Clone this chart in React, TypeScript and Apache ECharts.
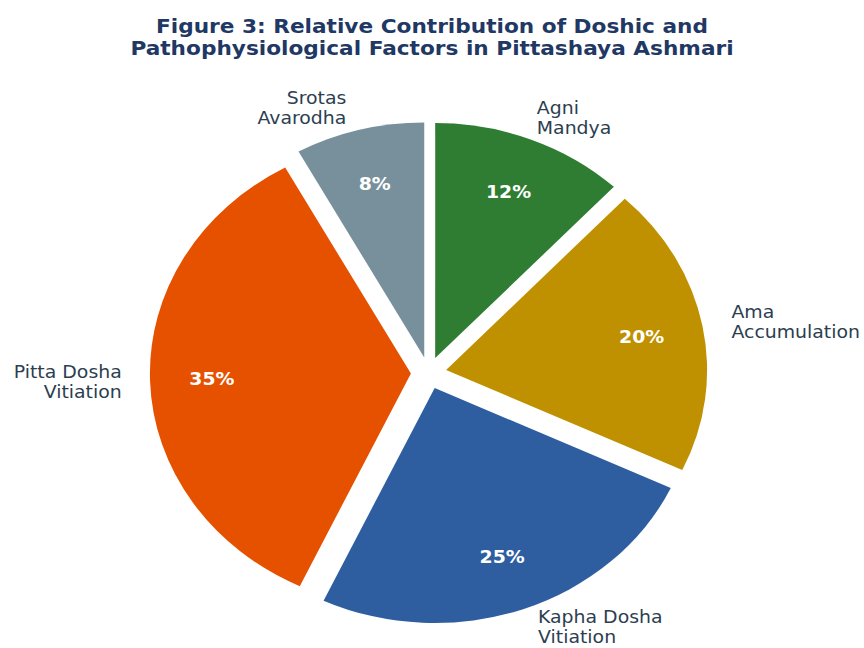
import { useEffect, useRef } from "react";
import * as echarts from "echarts";

// Slices in drawing order (clockwise from 12 o'clock)
const categories = [
  "Agni\nMandya",
  "Ama\nAccumulation",
  "Kapha Dosha\nVitiation",
  "Pitta Dosha\nVitiation",
  "Srotas\nAvarodha",
];
const values = [12, 20, 25, 35, 8];
const colors = ["#2E7D32", "#BF9000", "#2E5E9F", "#E65100", "#78909C"];
const titleLines = [
  "Figure 3: Relative Contribution of Doshic and",
  "Pathophysiological Factors in Pittashaya Ashmari",
];

// small horizontal label nudges (layout only)
const LABEL_GAP = [-3.5, 3.5, 7, 2.5, 6];
const LABEL_RADIAL = [23, 23, 19, 23, 23];

const INNER_W = 778;
const STRETCH = 864 / INNER_W;
const FONT = "DejaVu Sans";

export default function App() {
  const ref = useRef<HTMLDivElement>(null);

  useEffect(() => {
    if (!ref.current) return;
    const chart = echarts.init(ref.current, null, { renderer: "svg" });
    const R = 235;
    const center = [386, 373];
    const offset = 16;

    const data = categories.map((name, i) => ({
      name,
      value: values[i],
      selected: true,
      itemStyle: { color: colors[i] },
      label: { distanceToLabelLine: LABEL_GAP[i] },
      labelLine: { show: false, length: LABEL_RADIAL[i], length2: 0 },
    }));
    const ghost = categories.map((name, i) => ({
      name,
      value: values[i],
      selected: true,
      itemStyle: { color: "rgba(0,0,0,0)" },
    }));

    chart.setOption({
      animation: false,
      title: {
        text: titleLines.join("\n"),
        left: "center",
        top: 10,
        textStyle: {
          fontFamily: FONT,
          fontSize: 19.5,
          fontWeight: "bold",
          color: "#1F3864",
          lineHeight: 22,
        },
      },
      series: [
        {
          type: "pie",
          center,
          radius: [0, R],
          startAngle: 90,
          clockwise: true,
          selectedMode: "multiple",
          selectedOffset: offset,
          avoidLabelOverlap: false,
          emphasis: { disabled: true },
          select: { itemStyle: { borderWidth: 0 } },
          data,
          label: {
            show: true,
            position: "outside",
            formatter: "{b}",
            fontFamily: FONT,
            fontSize: 17,
            lineHeight: 20,
            color: "#2C3E50",
            distanceToLabelLine: 0,
            bleedMargin: 0,
          },
          labelLine: { show: false, length: 23, length2: 0 },
        },
        {
          type: "pie",
          silent: true,
          center,
          radius: [R / 2, R],
          startAngle: 90,
          clockwise: true,
          selectedMode: "multiple",
          selectedOffset: offset,
          avoidLabelOverlap: false,
          emphasis: { disabled: true },
          select: { itemStyle: { borderWidth: 0 } },
          data: ghost,
          label: {
            show: true,
            position: "inside",
            formatter: (p: any) => Math.round(p.percent) + "%",
            fontFamily: FONT,
            fontSize: 17,
            fontWeight: "bold",
            color: "#FFFFFF",
          },
          labelLine: { show: false },
        },
      ],
    });

    return () => chart.dispose();
  }, []);

  return (
    <div
      style={{
        position: "absolute",
        left: 0,
        top: 0,
        width: 864,
        height: 648,
        overflow: "hidden",
        background: "#FFFFFF",
      }}
    >
      <div
        ref={ref}
        style={{
          width: INNER_W,
          height: 648,
          transform: `scaleX(${STRETCH})`,
          transformOrigin: "0 0",
        }}
      />
    </div>
  );
}
